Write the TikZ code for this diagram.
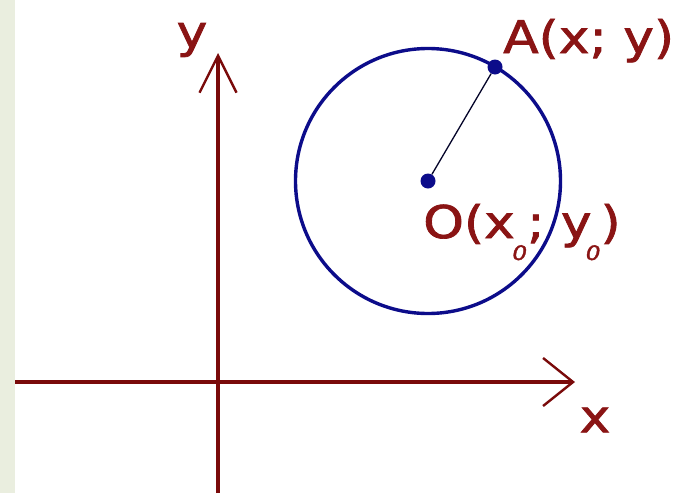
\documentclass[tikz,border=0pt]{standalone}
\usepackage{fontspec}
\setmainfont{DejaVu Sans}
\newfontfamily\lblfont{DejaVu Sans}[FakeBold=1.6]
\usetikzlibrary{arrows.meta}

\definecolor{axisred}{HTML}{7A0A0A}
\definecolor{labelred}{HTML}{8A1414}
\definecolor{circblue}{HTML}{0C0C8A}
\definecolor{stripbg}{HTML}{EAEEDF}

\newcommand{\subzero}{\raisebox{-22pt}{\fontsize{20}{20}\selectfont\itshape 0}}

\begin{document}
\begin{tikzpicture}[
  x=1pt,y=-1pt,
  font=\lblfont\fontsize{45}{50}\selectfont,
  axis/.style={draw=axisred,line width=3.6pt},
  lbl/.style={text=labelred,inner sep=0pt,xscale=1.15},
  dot/.style={circle,fill=circblue,inner sep=0pt,minimum size=15pt},
  ring/.style={draw=circblue,line width=3.4pt},
  radius/.style={draw=black!70!circblue,line width=1.3pt},
]
  \useasboundingbox (0,0) rectangle (680,493);
  \fill[white] (0,0) rectangle (680,493);
  \fill[stripbg] (0,0) rectangle (15,493);

  % axes
  \coordinate (xleft) at (15,382);
  \coordinate (xright) at (575,382);
  \coordinate (ybottom) at (218,493);
  \coordinate (ytop) at (218,53);
  \draw[axis,-{Straight Barb[length=30pt,width=48pt,line width=2.4pt]}] (xleft) -- (xright);
  \draw[axis,-{Straight Barb[length=37pt,width=37pt,line width=2.4pt]}] (ybottom) -- (ytop);
  \node[lbl] (xlabel) at (595,420) {x};
  \node[lbl] (ylabel) at (192,40) {y};

  % circle with centre O and point A
  \node[dot] (O) at (428,181) {};
  \draw[ring] (O) circle (132.5);
  \node[dot] (A) at (495,67) {};
  \draw[radius] (O) -- (A);

  \node[lbl,anchor=base west] (Alabel) at (503,53) {A(x; y)};
  \node[lbl,anchor=base west] (Olabel) at (423,238) {O(x\kern-2pt\subzero; y\kern-5pt\subzero)};
\end{tikzpicture}
\end{document}
